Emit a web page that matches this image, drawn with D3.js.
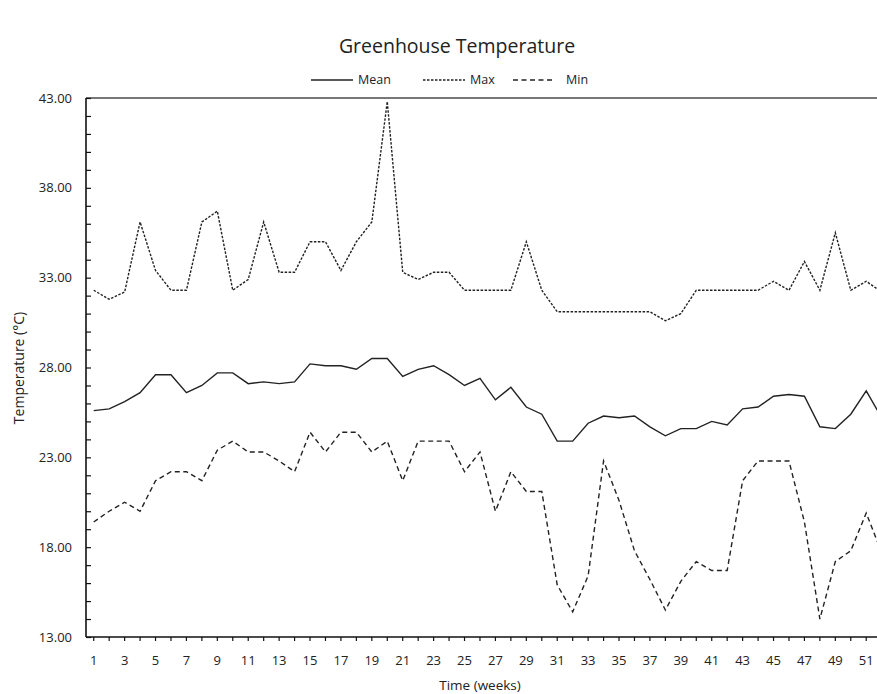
<!DOCTYPE html>
<html>
<head>
<meta charset="utf-8">
<script src="https://cdn.jsdelivr.net/npm/d3@7"></script>
<style>
  body { margin: 0; background: #fff; }
  svg { display: block; font-family: "Open Sans", "Noto Sans", sans-serif; }
</style>
</head>
<body>
<svg id="chart" width="877" height="694"></svg>
<script>
// weeks 1..52
const weeks = d3.range(1, 53);

// weekly temperatures (°C)
const meanTemp = [25.6, 25.7, 26.1, 26.6, 27.6, 27.6, 26.6, 27.0, 27.7, 27.7,
                  27.1, 27.2, 27.1, 27.2, 28.2, 28.1, 28.1, 27.9, 28.5, 28.5,
                  27.5, 27.9, 28.1, 27.6, 27.0, 27.4, 26.2, 26.9, 25.8, 25.4,
                  23.9, 23.9, 24.9, 25.3, 25.2, 25.3, 24.7, 24.2, 24.6, 24.6,
                  25.0, 24.8, 25.7, 25.8, 26.4, 26.5, 26.4, 24.7, 24.6, 25.4,
                  26.7, 25.2];
const maxTemp = [32.3, 31.8, 32.2, 36.1, 33.4, 32.3, 32.3, 36.1, 36.7, 32.3,
                 32.9, 36.1, 33.3, 33.3, 35.0, 35.0, 33.4, 35.0, 36.1, 42.8,
                 33.3, 32.9, 33.3, 33.3, 32.3, 32.3, 32.3, 32.3, 35.0, 32.3,
                 31.1, 31.1, 31.1, 31.1, 31.1, 31.1, 31.1, 30.6, 31.0, 32.3,
                 32.3, 32.3, 32.3, 32.3, 32.8, 32.3, 33.9, 32.3, 35.5, 32.3,
                 32.8, 32.2];
const minTemp = [19.4, 20.0, 20.5, 20.0, 21.7, 22.2, 22.2, 21.7, 23.4, 23.9,
                 23.3, 23.3, 22.8, 22.2, 24.4, 23.3, 24.4, 24.4, 23.3, 23.9,
                 21.7, 23.9, 23.9, 23.9, 22.2, 23.3, 20.0, 22.2, 21.1, 21.1,
                 15.9, 14.4, 16.4, 22.8, 20.6, 17.8, 16.2, 14.5, 16.1, 17.2,
                 16.7, 16.7, 21.7, 22.8, 22.8, 22.8, 19.4, 14.0, 17.2, 17.8,
                 19.9, 17.7];

const yTickLabels = [13, 18, 23, 28, 33, 38, 43];

const series = [
  {name: "Mean", values: meanTemp, dash: null},
  {name: "Max",  values: maxTemp,  dash: "2.5,1.5"},
  {name: "Min",  values: minTemp,  dash: "5,3.5"}
];

const svg = d3.select("#chart");
// plot area runs past the right edge of the picture, as in the original
const margin = {left: 86, top: 98};
const plotW = 52 * 15.45, plotH = 539;

const g = svg.append("g").attr("transform", `translate(${margin.left},${margin.top})`);

const x = d3.scaleBand().domain(weeks).range([0, plotW]);
const y = d3.scaleLinear().domain([13, 43]).range([plotH, 0]);
const cx = d => x(d) + x.bandwidth() / 2;

// plot border (top)
g.append("line")
  .attr("x1", 0).attr("x2", plotW)
  .attr("y1", 0).attr("y2", 0)
  .attr("stroke", "#777").attr("stroke-width", 2);

// y axis: ticks every degree, pointing inside
const yAxis = d3.axisRight(y)
  .tickValues(d3.range(13, 44))
  .tickSize(5)
  .tickFormat("");
const yg = g.append("g").call(yAxis);
yg.select(".domain").remove();
yg.selectAll(".tick line").attr("stroke", "#111").attr("stroke-width", 1.2);

g.append("line")
  .attr("x1", 0).attr("x2", 0).attr("y1", 0).attr("y2", plotH)
  .attr("stroke", "#111").attr("stroke-width", 1.6);

g.selectAll(".ylab")
  .data(yTickLabels)
  .join("text")
  .attr("class", "ylab")
  .attr("x", -14)
  .attr("y", d => y(d))
  .attr("dy", "0.35em")
  .attr("text-anchor", "end")
  .attr("font-size", 13)
  .attr("fill", "#222")
  .text(d => d.toFixed(2));

// x axis
const xAxis = d3.axisBottom(x).tickSize(4).tickFormat("");
const xg = g.append("g").attr("transform", `translate(0,${plotH})`).call(xAxis);
xg.select(".domain").remove();
xg.selectAll(".tick line").attr("stroke", "#111").attr("stroke-width", 1.2);

g.append("line")
  .attr("x1", 0).attr("x2", plotW).attr("y1", plotH).attr("y2", plotH)
  .attr("stroke", "#111").attr("stroke-width", 1.6);

g.selectAll(".xlab")
  .data(weeks.filter(w => w % 2 === 1))
  .join("text")
  .attr("class", "xlab")
  .attr("x", d => cx(d))
  .attr("y", plotH + 28)
  .attr("text-anchor", "middle")
  .attr("font-size", 13)
  .attr("fill", "#222")
  .text(d => d);

// lines
const line = d3.line()
  .x((d, i) => cx(weeks[i]))
  .y(d => y(d));

g.selectAll(".series")
  .data(series)
  .join("path")
  .attr("class", "series")
  .attr("d", d => line(d.values))
  .attr("fill", "none")
  .attr("stroke", "#222")
  .attr("stroke-width", 1.4)
  .attr("stroke-dasharray", d => d.dash);

// title
svg.append("text")
  .attr("x", 457).attr("y", 53)
  .attr("text-anchor", "middle")
  .attr("font-size", 19.5)
  .attr("fill", "#222")
  .text("Greenhouse Temperature");

// legend
const legendX = [311, 423, 513];
const leg = svg.selectAll(".leg")
  .data(series)
  .join("g")
  .attr("class", "leg")
  .attr("transform", (d, i) => `translate(${legendX[i]},80)`);
leg.append("line")
  .attr("x1", 0).attr("x2", 42).attr("y1", 0).attr("y2", 0)
  .attr("stroke", "#222").attr("stroke-width", 1.3)
  .attr("stroke-dasharray", d => d.dash);
leg.append("text")
  .attr("x", (d, i) => i === 2 ? 53 : 47)
  .attr("dy", "0.35em")
  .attr("font-size", 12.5)
  .attr("fill", "#222")
  .text(d => d.name);

// axis titles
svg.append("text")
  .attr("transform", "translate(24,368) rotate(-90)")
  .attr("text-anchor", "middle")
  .attr("font-size", 14)
  .attr("fill", "#222")
  .text("Temperature (°C)");

svg.append("text")
  .attr("x", 480).attr("y", 690)
  .attr("text-anchor", "middle")
  .attr("font-size", 13.5)
  .attr("fill", "#222")
  .text("Time (weeks)");
</script>
</body>
</html>
